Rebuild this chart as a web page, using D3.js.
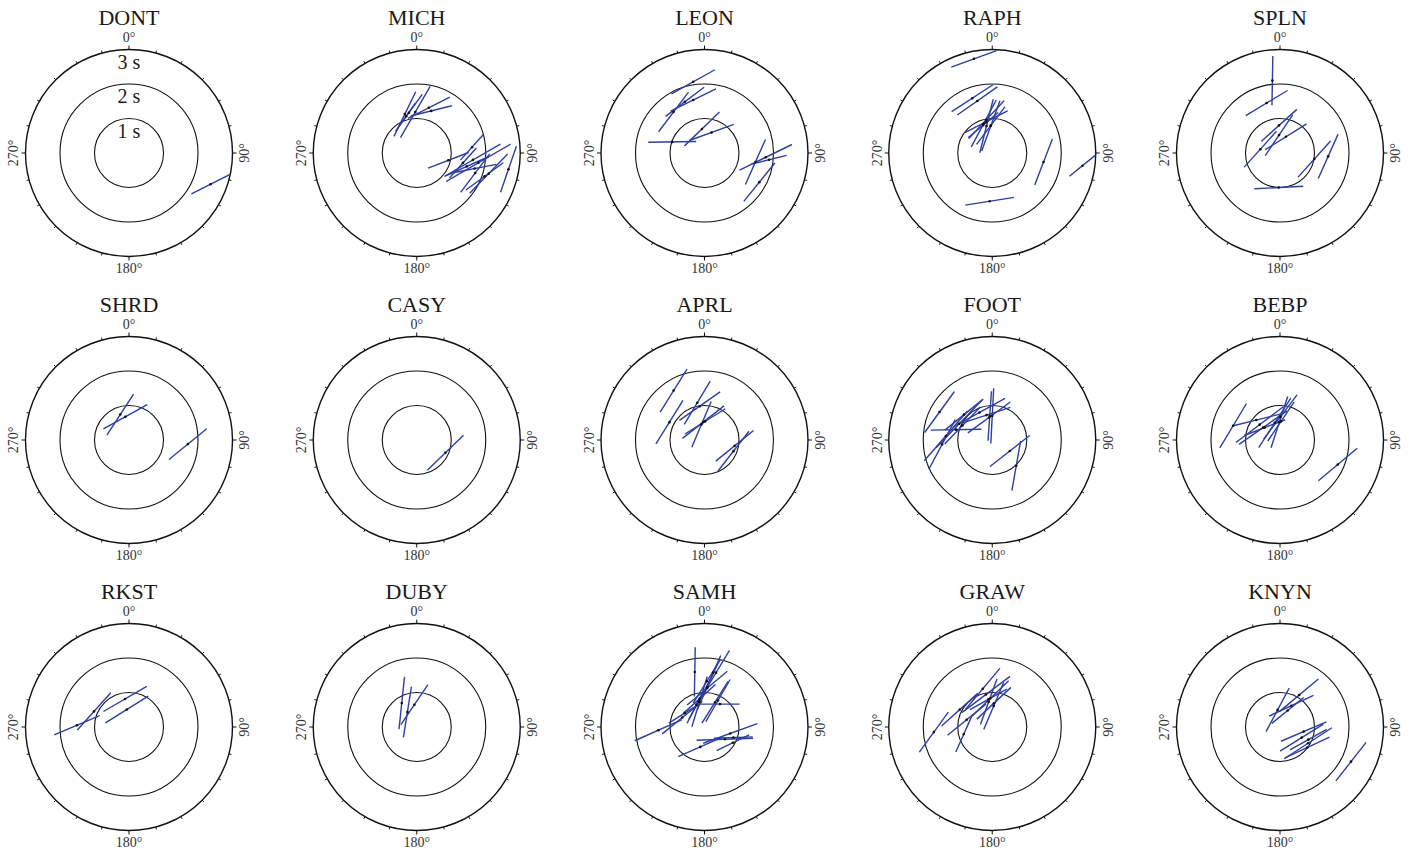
<!DOCTYPE html>
<html>
<head>
<meta charset="utf-8">
<script src="https://cdn.jsdelivr.net/npm/d3@7"></script>
<style>
  body { margin: 0; background: #fff; }
  svg text { font-family: "Liberation Serif", "DejaVu Serif", serif; }
</style>
</head>
<body>
<div id="chart"></div>
<script>
// each row: [back-azimuth (deg), radial value (s), fast direction (deg), bar length (s)]
const DONT = [[111, 2.53, 63, 1.24]];
const MICH = [
  [343, 1.18, 26, 1.44], [358, 1.19, 30, 1.72], [349, 1.19, 36, 1.31],
  [15, 1.36, 63, 1.36], [19, 1.29, 76, 1.23], [344, 1.11, 35, 0.9],
  [103, 0.94, 69, 1.26], [84, 1.61, 42, 1.01], [102, 1.37, 42, 1.16],
  [97, 1.64, 60, 1.84], [99, 1.81, 60, 2.15], [109, 1.79, 37, 1.40],
  [109, 2.08, 54, 1.34], [106, 2.17, 44, 1.58], [100, 2.70, 19, 1.41],
  [105, 1.74, 79, 1.28], [105, 1.50, 66, 1.41]
];
const LEON = [
  [351, 2.09, 61, 1.44], [339, 1.59, 53, 1.40], [323, 1.49, 37, 1.44],
  [348, 1.57, 64, 1.46], [289, 0.99, 89, 1.39], [354, 0.70, 46, 1.41],
  [19, 0.63, 70, 1.37], [94, 1.78, 64, 1.69], [100, 1.50, 24, 1.43],
  [96, 1.88, 76, 1.05], [118, 1.80, 39, 1.43]
];
const RAPH = [
  [349, 2.78, 70, 1.40], [340, 1.69, 57, 1.43], [344, 1.57, 55, 1.42],
  [350, 0.98, 43, 1.50], [344, 0.89, 28, 1.54], [348, 0.80, 14, 1.60],
  [349, 0.92, 63, 1.39], [357, 0.80, 37, 1.37], [357, 0.79, 20, 1.55],
  [342, 0.85, 50, 1.14], [100, 1.51, 21, 1.43], [98, 2.64, 51, 0.97],
  [183, 1.40, 81, 1.43]
];
const SPLN = [
  [354, 2.11, 1, 1.43], [345, 1.50, 59, 1.41], [281, 0.58, 42, 1.40],
  [358, 0.80, 48, 1.39], [357, 0.52, 34, 1.43], [20, 0.50, 58, 1.41],
  [100, 1.01, 42, 1.41], [94, 1.40, 24, 1.41], [182, 1.00, 87, 1.42]
];
const SHRD = [[341, 0.78, 33, 1.42], [351, 0.68, 61, 1.45], [94, 1.71, 51, 1.41]];
const CASY = [[114, 0.91, 46, 1.46]];
const APRL = [
  [328, 1.69, 32, 1.47], [297, 1.14, 32, 1.48], [349, 1.10, 31, 1.46],
  [352, 0.99, 55, 1.44], [356, 0.52, 52, 1.53], [349, 0.46, 23, 1.44],
  [2, 0.54, 58, 1.38], [101, 0.89, 51, 1.41], [111, 0.90, 38, 1.46]
];
const FOOT = [
  [298, 1.73, 36, 1.47], [286, 1.09, 89, 1.47], [275, 1.35, 41, 1.91],
  [265, 1.46, 28, 1.63], [296, 1.07, 44, 1.92], [296, 0.96, 44, 1.49],
  [335, 0.88, 61, 1.70], [352, 0.66, 54, 1.52], [0, 0.70, 3, 1.60],
  [354, 0.70, 4, 1.44], [347, 0.74, 72, 1.46], [312, 1.10, 51, 1.43],
  [122, 0.60, 52, 1.46], [137, 1.02, 10, 1.46]
];
const BEBP = [
  [287, 1.42, 31, 1.50], [307, 0.74, 53, 1.72], [306, 0.61, 55, 1.69],
  [310, 0.90, 76, 1.43], [343, 0.52, 33, 1.71], [358, 0.52, 18, 1.56],
  [1, 0.67, 37, 1.60], [309, 0.57, 69, 1.27], [3, 0.54, 34, 1.37],
  [113, 1.82, 50, 1.47]
];
const RKST = [[272, 1.51, 67, 1.43], [294, 1.11, 42, 1.45], [352, 0.82, 60, 1.45], [353, 0.51, 58, 1.46]];
const DUBY = [[328, 0.82, 6, 1.52], [328, 0.51, 9, 1.49], [354, 0.65, 34, 1.40]];
const SAMH = [
  [350, 1.62, 1, 1.43], [12, 1.61, 31, 1.51], [9, 1.60, 24, 1.08],
  [3, 1.33, 32, 1.48], [4, 1.16, 24, 1.43], [4, 1.13, 50, 1.52],
  [27, 0.86, 30, 1.41], [23, 0.78, 32, 1.43], [34, 0.80, 90, 1.14],
  [350, 0.83, 48, 1.24], [347, 0.76, 28, 1.43], [349, 0.75, 17, 1.52],
  [293, 0.70, 51, 1.50], [266, 1.34, 66, 1.50], [305, 0.70, 58, 1.09],
  [340, 0.69, 27, 0.97], [121, 0.69, 88, 1.64], [104, 0.77, 70, 1.67],
  [119, 0.94, 64, 1.05], [192, 0.59, 66, 1.40], [110, 0.89, 88, 1.12]
];
const GRAW = [
  [265, 1.70, 36, 1.43], [298, 1.07, 48, 1.41], [256, 0.85, 24, 1.14],
  [286, 0.77, 51, 1.43], [346, 1.14, 40, 1.55], [349, 0.96, 53, 1.75],
  [356, 0.83, 46, 1.48], [4, 0.69, 47, 1.35], [4, 0.61, 23, 1.48],
  [352, 0.74, 20, 1.40], [352, 0.81, 61, 1.22]
];
const KNYN = [
  [352, 0.50, 28, 1.43], [31, 1.08, 50, 1.45], [28, 0.70, 65, 1.42],
  [25, 0.53, 51, 1.19], [101, 0.70, 67, 1.43], [116, 0.70, 58, 1.48],
  [120, 0.94, 57, 1.65], [127, 0.99, 65, 1.42], [114, 0.90, 61, 1.22],
  [116, 2.29, 38, 1.42]
];

const stations = ["DONT", "MICH", "LEON", "RAPH", "SPLN", "SHRD", "CASY", "APRL",
  "FOOT", "BEBP", "RKST", "DUBY", "SAMH", "GRAW", "KNYN"];
const stationData = [DONT, MICH, LEON, RAPH, SPLN, SHRD, CASY, APRL,
  FOOT, BEBP, RKST, DUBY, SAMH, GRAW, KNYN];
const rings = [1, 2, 3];
const ringLabels = ["1 s", "2 s", "3 s"];
const azLabels = [0, 90, 180, 270];

const width = 1409, height = 853;
const svg = d3.select('#chart').append('svg')
  .attr('width', width)
  .attr('height', height);

const colX = d3.scaleLinear().domain([0, 4]).range([129, 1280]);
const rowY = d3.scaleLinear().domain([0, 2]).range([153, 727]);
const rScale = d3.scaleLinear().domain([0, 3]).range([0, 103.5]);
const rad = d => d * Math.PI / 180;

// polar (azimuth clockwise from north) -> x,y
const px = (az, r) => r * Math.sin(rad(az));
const py = (az, r) => -r * Math.cos(rad(az));

stations.forEach((name, i) => {
  const g = svg.append('g')
    .attr('transform', `translate(${colX(i % 5)},${rowY(Math.floor(i / 5))})`);

  g.append('text')
    .attr('y', -136)
    .attr('dy', '0.35em')
    .attr('text-anchor', 'middle')
    .attr('font-size', 22)
    .attr('fill', '#1a1a1a')
    .text(name);

  g.selectAll('circle.ring').data(rings)
    .enter().append('circle')
    .attr('class', 'ring')
    .attr('r', d => rScale(d))
    .attr('fill', 'none')
    .attr('stroke', '#111')
    .attr('stroke-width', d => d === 3 ? 1.4 : 1.1);

  // ticks on the outer circle every 15 deg
  g.selectAll('line.tick').data(d3.range(0, 360, 15))
    .enter().append('line')
    .attr('class', 'tick')
    .attr('x1', d => px(d, rScale(3)))
    .attr('y1', d => py(d, rScale(3)))
    .attr('x2', d => px(d, rScale(3) + (d % 90 === 0 ? 4 : 2.5)))
    .attr('y2', d => py(d, rScale(3) + (d % 90 === 0 ? 4 : 2.5)))
    .attr('stroke', '#111')
    .attr('stroke-width', 1);

  g.selectAll('text.az').data(azLabels)
    .enter().append('text')
    .attr('class', 'az')
    .attr('text-anchor', 'middle')
    .attr('dy', '0.35em')
    .attr('font-size', 14)
    .attr('fill', '#333')
    .attr('transform', d => {
      const x = px(d, rScale(3) + 12), y = py(d, rScale(3) + 12);
      const rot = d % 180 === 90 ? -90 : 0;
      return `translate(${x},${y}) rotate(${rot})`;
    })
    .text(d => d + '°');

  if (i === 0) {
    g.selectAll('text.rl').data(rings)
      .enter().append('text')
      .attr('class', 'rl')
      .attr('x', 0)
      .attr('y', d => -rScale(d) + 12)
      .attr('dy', '0.35em')
      .attr('text-anchor', 'middle')
      .attr('font-size', 20)
      .attr('fill', '#1a1a1a')
      .text((d, k) => ringLabels[k]);
  }

  const data = stationData[i];
  g.append('g').selectAll('line').data(data)
    .enter().append('line')
    .attr('x1', d => px(d[0], rScale(d[1])) - px(d[2], rScale(d[3]) / 2))
    .attr('y1', d => py(d[0], rScale(d[1])) - py(d[2], rScale(d[3]) / 2))
    .attr('x2', d => px(d[0], rScale(d[1])) + px(d[2], rScale(d[3]) / 2))
    .attr('y2', d => py(d[0], rScale(d[1])) + py(d[2], rScale(d[3]) / 2))
    .attr('stroke', '#2f3f9f')
    .attr('stroke-width', 1.4);

  g.append('g').selectAll('circle').data(data)
    .enter().append('circle')
    .attr('cx', d => px(d[0], rScale(d[1])))
    .attr('cy', d => py(d[0], rScale(d[1])))
    .attr('r', 1.3)
    .attr('fill', '#111');
});
</script>
</body>
</html>
